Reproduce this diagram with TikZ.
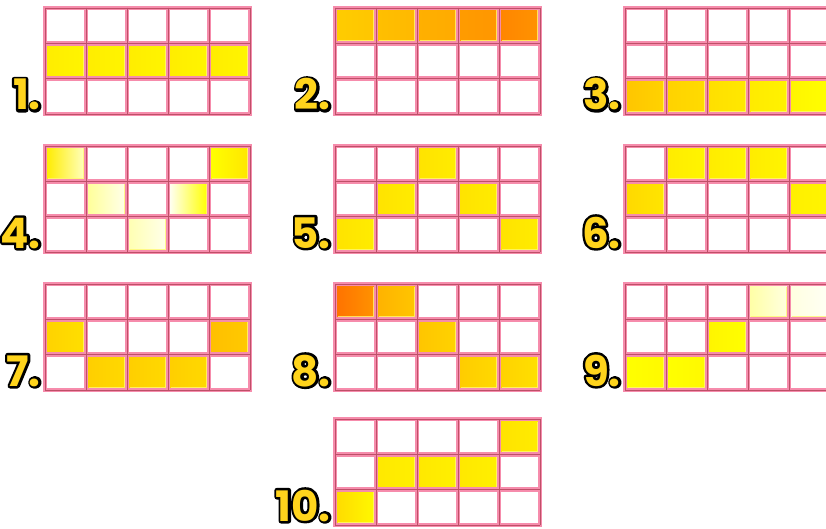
\documentclass[tikz,border=0pt]{standalone}
\usepackage{fontspec}
\newfontfamily\numfont{Poppins}
\usetikzlibrary{positioning}

\definecolor{linepink}{RGB}{246,140,172}
\definecolor{linedark}{RGB}{190,80,104}
\definecolor{numgold}{RGB}{255,212,28}

\newcommand{\cellw}{41}
\newcommand{\cellh}{35.333}

% gold number with a black rim
\newcommand{\rimnum}[1]{\rlap{\color{black}\special{pdf:literal direct 2 Tr 1 j 5 w}#1\special{pdf:literal direct 0 Tr 1 w}}#1}

% one lit cell: column, row, left colour, right colour
\newcommand{\litcell}[4]{%
  \shade[left color=#3, right color=#4]
    ({(#1-1)*\cellw+1.5},{(#2-1)*\cellh+1.5}) rectangle ({#1*\cellw-1.5},{#2*\cellh-1.5});
  \draw[cellrim] ({(#1-1)*\cellw+2.5},{#2*\cellh-2.5}) -- ({#1*\cellw-2.5},{#2*\cellh-2.5})
    -- ({#1*\cellw-2.5},{(#2-1)*\cellh+2.5});
}

% grid lines of one 5x3 board
\newcommand{\boardlines}{%
  \foreach \i in {0,...,5} {
    \draw[pinkline] (\i*\cellw,0) -- (\i*\cellw,3*\cellh);
  }
  \foreach \j in {0,...,3} {
    \draw[pinkline] (0,\j*\cellh) -- (5*\cellw,\j*\cellh);
  }
  \foreach \i in {0,...,5} {
    \draw[darkline] (\i*\cellw,0) -- (\i*\cellw,3*\cellh);
  }
  \foreach \j in {0,...,3} {
    \draw[darkline] (0,\j*\cellh) -- (5*\cellw,\j*\cellh);
  }
}

\begin{document}
\begin{tikzpicture}[
    x=1pt, y=-1pt,
    board/.style={anchor=north west, fill=white, inner sep=0pt, outer sep=0pt,
                  minimum width=205pt, minimum height=106pt},
    pinkline/.style={draw=linepink, line width=4.8pt, line cap=rect},
    darkline/.style={draw=linedark, line width=0.8pt, line cap=rect},
    cellrim/.style={draw=yellow!55!white, line width=1.2pt, opacity=0.8},
    numlabel/.style={font=\numfont\bfseries\fontsize{42}{42}\selectfont, text=numgold,
                     inner sep=0pt, anchor=base east}
  ]
  \useasboundingbox (0,0) rectangle (826,529);

  % 1
  \begin{scope}[shift={(45,8)}]
    \node[board] (b1) at (0,0) {};
    \foreach \c in {1,...,5} { \litcell{\c}{2}{orange!14!yellow}{orange!8!yellow} }
  \end{scope}
  % 2
  \begin{scope}[shift={(335,8)}]
    \node[board] (b2) at (0,0) {};
    \litcell{1}{1}{orange!40!yellow}{orange!45!yellow}
    \litcell{2}{1}{orange!50!yellow}{orange!55!yellow}
    \litcell{3}{1}{orange!62!yellow}{orange!66!yellow}
    \litcell{4}{1}{orange!78!yellow}{orange!82!yellow}
    \litcell{5}{1}{orange!95!yellow}{orange!85!yellow}
  \end{scope}
  % 3
  \begin{scope}[shift={(625,8)}]
    \node[board] (b3) at (0,0) {};
    \litcell{1}{3}{orange!45!yellow}{orange!35!yellow}
    \litcell{2}{3}{orange!35!yellow}{orange!28!yellow}
    \litcell{3}{3}{orange!25!yellow}{orange!18!yellow}
    \litcell{4}{3}{orange!16!yellow}{orange!10!yellow}
    \litcell{5}{3}{orange!8!yellow}{yellow}
  \end{scope}
  % 4
  \begin{scope}[shift={(45,146)}]
    \node[board] (b4) at (0,0) {};
    \litcell{1}{1}{yellow!85!orange}{yellow!25!white}
    \litcell{5}{1}{yellow}{orange!20!yellow}
    \litcell{2}{2}{yellow!40!white}{yellow!8!white}
    \litcell{4}{2}{yellow!5!white}{yellow}
    \litcell{3}{3}{yellow!30!white}{yellow!8!white}
  \end{scope}
  % 5
  \begin{scope}[shift={(335,146)}]
    \node[board] (b5) at (0,0) {};
    \litcell{3}{1}{orange!22!yellow}{orange!15!yellow}
    \litcell{2}{2}{orange!22!yellow}{orange!15!yellow}
    \litcell{4}{2}{orange!22!yellow}{orange!15!yellow}
    \litcell{1}{3}{orange!22!yellow}{orange!15!yellow}
    \litcell{5}{3}{orange!22!yellow}{orange!15!yellow}
  \end{scope}
  % 6
  \begin{scope}[shift={(625,146)}]
    \node[board] (b6) at (0,0) {};
    \litcell{2}{1}{orange!15!yellow}{orange!8!yellow}
    \litcell{3}{1}{orange!15!yellow}{orange!8!yellow}
    \litcell{4}{1}{orange!15!yellow}{orange!8!yellow}
    \litcell{1}{2}{orange!30!yellow}{orange!20!yellow}
    \litcell{5}{2}{orange!12!yellow}{orange!8!yellow}
  \end{scope}
  % 7
  \begin{scope}[shift={(45,284)}]
    \node[board] (b7) at (0,0) {};
    \litcell{1}{2}{orange!35!yellow}{orange!25!yellow}
    \litcell{5}{2}{orange!50!yellow}{orange!42!yellow}
    \litcell{2}{3}{orange!38!yellow}{orange!30!yellow}
    \litcell{3}{3}{orange!38!yellow}{orange!30!yellow}
    \litcell{4}{3}{orange!38!yellow}{orange!30!yellow}
  \end{scope}
  % 8
  \begin{scope}[shift={(335,284)}]
    \node[board] (b8) at (0,0) {};
    \litcell{1}{1}{orange!90!red}{orange!85!yellow}
    \litcell{2}{1}{orange!60!yellow}{orange!45!yellow}
    \litcell{3}{2}{orange!45!yellow}{orange!35!yellow}
    \litcell{4}{3}{orange!40!yellow}{orange!30!yellow}
    \litcell{5}{3}{orange!35!yellow}{orange!25!yellow}
  \end{scope}
  % 9
  \begin{scope}[shift={(625,284)}]
    \node[board] (b9) at (0,0) {};
    \litcell{4}{1}{yellow!35!white}{yellow!12!white}
    \litcell{5}{1}{yellow!12!white}{yellow!4!white}
    \litcell{3}{2}{orange!8!yellow}{yellow}
    \litcell{1}{3}{yellow}{yellow!95!orange}
    \litcell{2}{3}{yellow}{yellow!95!orange}
  \end{scope}
  % 10
  \begin{scope}[shift={(335,419)}]
    \node[board] (b10) at (0,0) {};
    \litcell{5}{1}{orange!22!yellow}{orange!15!yellow}
    \litcell{2}{2}{orange!18!yellow}{orange!12!yellow}
    \litcell{3}{2}{orange!18!yellow}{orange!12!yellow}
    \litcell{4}{2}{orange!18!yellow}{orange!12!yellow}
    \litcell{1}{3}{orange!28!yellow}{orange!5!yellow}
  \end{scope}

  \foreach \bx/\by in {45/8, 335/8, 625/8, 45/146, 335/146, 625/146, 45/284, 335/284, 625/284, 335/419} {
    \begin{scope}[shift={(\bx,\by)}]
      \boardlines
    \end{scope}
  }

  \foreach \k in {1,...,10} {
    \node[numlabel] (n\k) at ([xshift=-4pt, yshift=4pt]b\k.south west) {\rimnum{\k.}};
  }
\end{tikzpicture}
\end{document}
